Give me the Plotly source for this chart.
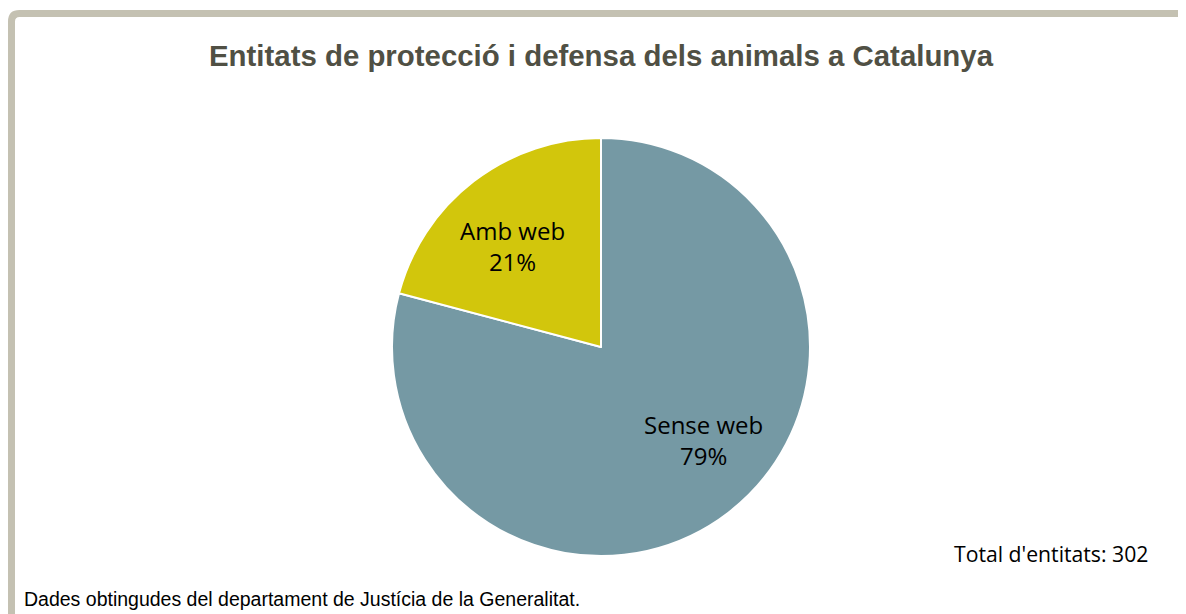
import plotly.graph_objects as go

# data
labels = ['Sense web', 'Amb web']
values = [239, 63]
colors = ['#7599a4', '#d2c60c']
total = 302

W, H = 1186, 614
OFF = 8  # page body margin in the browser


def px(x):
    return (x - OFF) / W


def py(y):
    return 1 - (y - OFF) / H


fig = go.Figure()

fig.add_trace(go.Pie(
    labels=labels, values=values, sort=False, direction='clockwise', rotation=0,
    marker=dict(colors=colors, line=dict(color='white', width=2)),
    textinfo='none',
    domain=dict(x=[px(392), px(810)], y=[py(556), py(138)]),
    showlegend=False, hoverinfo='label+value+percent',
))

# data labels, placed like the original's (Excel) label positions
label_pos = [(703, 440), (512, 246)]
for lab, val, (lx, ly) in zip(labels, values, label_pos):
    pct = round(100 * val / sum(values))
    fig.add_annotation(text='%s<br>%d%%' % (lab, pct), x=px(lx), y=py(ly),
                       xref='paper', yref='paper', showarrow=False,
                       font=dict(family='Open Sans, Noto Sans, sans-serif', size=24, color='#000000'),
                       xanchor='center', yanchor='middle')

# grey frame on top and left, rounded corner
r = 8
frame = ('M %f,%f L %f,%f Q %f,%f %f,%f L %f,%f' % (
    px(11.5), py(640), px(11.5), py(13.5 + r), px(11.5), py(13.5),
    px(11.5 + r), py(13.5), px(1220), py(13.5)))
fig.add_shape(type='path', path=frame, xref='paper', yref='paper',
              line=dict(color='#c4c1b2', width=7))

fig.add_annotation(text='<b>Entitats de protecció i defensa dels animals a Catalunya</b>',
                   x=px(601), y=py(55), xref='paper', yref='paper', showarrow=False,
                   font=dict(family='Liberation Sans, Arial, sans-serif', size=29.4, color='#505044'),
                   xanchor='center', yanchor='middle')
fig.add_annotation(text="Total d'entitats: %d" % total,
                   x=px(1150), y=py(553), xref='paper', yref='paper', showarrow=False,
                   font=dict(family='Open Sans, Noto Sans, sans-serif', size=21.2, color='#000000'),
                   xanchor='right', yanchor='middle')
fig.add_annotation(text='Dades obtingudes del departament de Justícia de la Generalitat.',
                   x=px(22), y=py(599), xref='paper', yref='paper', showarrow=False,
                   font=dict(family='Liberation Sans, Arial, sans-serif', size=19.5, color='#000000'),
                   xanchor='left', yanchor='middle')

fig.update_layout(width=W, height=H, margin=dict(l=0, r=0, t=0, b=0),
                  paper_bgcolor='white', plot_bgcolor='white')

fig.write_html('out.html')
